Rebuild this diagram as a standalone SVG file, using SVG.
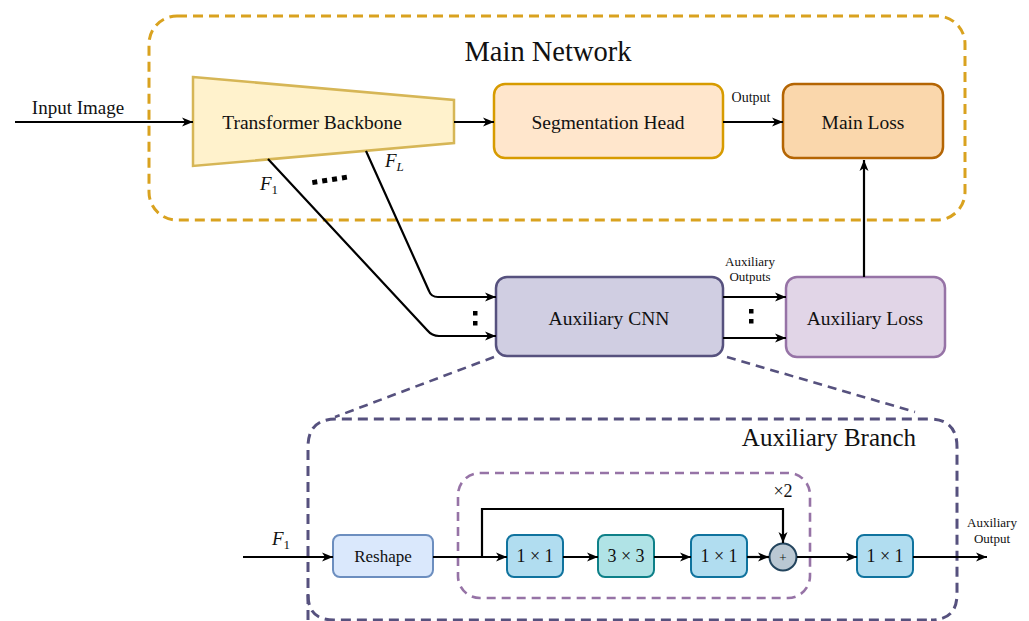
<svg xmlns="http://www.w3.org/2000/svg" width="1029" height="621" viewBox="0 0 1029 621">
<defs>
<marker id="arr" markerUnits="userSpaceOnUse" markerWidth="12" markerHeight="10" refX="11" refY="5" orient="auto">
<path d="M0,0.5 L11,5 L0,9.5 L3,5 z" fill="#000"/>
</marker>
<style>
text{font-family:"Liberation Serif","Times New Roman",serif;fill:#111;}
.lbl{font-size:19.5px;text-anchor:middle;dominant-baseline:central;}
.sm{font-size:14px;text-anchor:middle;}
.mth{font-size:18px;text-anchor:middle;dominant-baseline:central;}
.it{font-style:italic;font-size:19px;}
.sub{font-size:13px;font-style:normal;}
.subi{font-size:13px;font-style:italic;}
.ln{fill:none;stroke:#000;stroke-width:2.2;}
.ar{fill:none;stroke:#000;stroke-width:2.2;marker-end:url(#arr);}
.dot{fill:#000;}
</style>
</defs>
<rect width="1029" height="621" fill="#fff"/>

<g id="main-network">
<rect x="149" y="16" width="816" height="204" rx="28" fill="none" stroke="#d9a21f" stroke-width="3" stroke-dasharray="10 6"/>
<text x="548" y="61" style="font-size:28.5px;text-anchor:middle;">Main Network</text>
</g>

<g id="aux-branch">
<path d="M308,620 L308,447 Q308,419 336,419 L929,419 Q957,419 957,447 L957,594 Q957,620 931,620" fill="none" stroke="#56517e" stroke-width="3" stroke-dasharray="10 6"/>
<path d="M308,595 Q308,620 334,620 L931,620" fill="none" stroke="#56517e" stroke-width="3" stroke-dasharray="10 6"/>
<text x="829" y="446" style="font-size:25px;text-anchor:middle;">Auxiliary Branch</text>
</g>

<g id="repeat-block">
<rect x="458" y="473" width="352" height="125" rx="22" fill="none" stroke="#9673a6" stroke-width="2.6" stroke-dasharray="9 6"/>
<text x="783" y="497" style="font-size:18px;text-anchor:middle;">×2</text>
</g>

<g id="transformer-backbone">
<polygon points="193,77 454,100 454,143 193,166" fill="#fff2cc" stroke="#d6b656" stroke-width="2.5"/>
<text class="lbl" x="312" y="122">Transformer Backbone</text>
</g>

<g id="segmentation-head">
<rect x="494" y="84" width="229" height="74" rx="11" fill="#ffe6cc" stroke="#d79b00" stroke-width="2.5"/>
<text class="lbl" x="608" y="122">Segmentation Head</text>
</g>

<g id="main-loss">
<rect x="783" y="84" width="160" height="74" rx="11" fill="#fad7ac" stroke="#b46504" stroke-width="2.5"/>
<text class="lbl" x="863" y="122">Main Loss</text>
</g>

<g id="auxiliary-cnn">
<rect x="496" y="277" width="227" height="79" rx="11" fill="#d0cee2" stroke="#56517e" stroke-width="2.5"/>
<text class="lbl" x="609" y="318">Auxiliary CNN</text>
</g>

<g id="auxiliary-loss">
<rect x="786" y="277" width="159" height="80" rx="11" fill="#e1d5e7" stroke="#9673a6" stroke-width="2.5"/>
<text class="lbl" x="865" y="318">Auxiliary Loss</text>
</g>

<g id="reshape">
<rect x="333" y="535" width="100" height="42" rx="7" fill="#dae8fc" stroke="#6c8ebf" stroke-width="2"/>
<text x="383" y="556" style="font-size:17px;text-anchor:middle;dominant-baseline:central;">Reshape</text>
</g>

<g id="conv1x1-a">
<rect x="507" y="535" width="56" height="42" rx="7" fill="#b1ddf0" stroke="#10739e" stroke-width="2"/>
<text class="mth" x="535" y="556">1 × 1</text>
</g>

<g id="conv3x3">
<rect x="598" y="535" width="56" height="42" rx="7" fill="#b0e3e6" stroke="#0e8088" stroke-width="2"/>
<text class="mth" x="626" y="556">3 × 3</text>
</g>

<g id="conv1x1-b">
<rect x="691" y="535" width="56" height="42" rx="7" fill="#b1ddf0" stroke="#10739e" stroke-width="2"/>
<text class="mth" x="719" y="556">1 × 1</text>
</g>

<g id="add">
<circle cx="783" cy="557" r="13.5" fill="#bac8d3" stroke="#23445d" stroke-width="2"/>
<text x="783" y="557" style="font-size:13px;text-anchor:middle;dominant-baseline:central;">+</text>
</g>

<g id="conv1x1-c">
<rect x="857" y="535" width="56" height="42" rx="7" fill="#b1ddf0" stroke="#10739e" stroke-width="2"/>
<text class="mth" x="885" y="556">1 × 1</text>
</g>

<g id="connectors">
<path class="ar" d="M15,122 L193,122"/>
<text x="78" y="114" style="font-size:19px;text-anchor:middle;">Input Image</text>
<path class="ar" d="M454,122 L494,122"/>
<path class="ar" d="M723,122 L783,122"/>
<text class="sm" x="751" y="102">Output</text>
<path class="ar" d="M864,277 L864,160"/>

<path class="ar" d="M366,151 L429,291 Q431,297 438,297 L496,297"/>
<path class="ar" d="M268,159 L427,330 Q432,336 439,336 L496,336"/>
<text class="it" x="260" y="190">F<tspan class="sub" dy="4">1</tspan></text>
<text class="it" x="385" y="167">F<tspan class="subi" dy="4">L</tspan></text>
<g transform="rotate(-9 332 179)">
<rect class="dot" x="312" y="177" width="5" height="5"/>
<rect class="dot" x="322" y="177" width="5" height="5"/>
<rect class="dot" x="332" y="177" width="5" height="5"/>
<rect class="dot" x="342" y="177" width="5" height="5"/>
</g>
<rect class="dot" x="473" y="311" width="4.5" height="4.5"/>
<rect class="dot" x="473" y="321" width="4.5" height="4.5"/>

<path class="ar" d="M723,297 L786,297"/>
<path class="ar" d="M723,338 L786,338"/>
<rect class="dot" x="749" y="309" width="4.5" height="4.5"/>
<rect class="dot" x="749" y="319" width="4.5" height="4.5"/>
<text class="sm" x="750" y="266" style="font-size:13px;">Auxiliary</text>
<text class="sm" x="750" y="281" style="font-size:13px;">Outputs</text>

<path d="M494,357 L335,417" fill="none" stroke="#56517e" stroke-width="2.6" stroke-dasharray="9 6"/>
<path d="M727,357 L915,412" fill="none" stroke="#56517e" stroke-width="2.6" stroke-dasharray="9 6"/>

<path class="ar" d="M243,557 L333,557"/>
<text class="it" x="272" y="545">F<tspan class="sub" dy="4">1</tspan></text>
<path class="ar" d="M433,557 L507,557"/>
<path class="ar" d="M482,557 L482,509 L783,509 L783,543"/>
<path class="ar" d="M563,557 L598,557"/>
<path class="ar" d="M654,557 L691,557"/>
<path class="ar" d="M747,557 L769,557"/>
<path class="ar" d="M797,557 L857,557"/>
<path class="ar" d="M913,557 L987,557"/>
<text class="sm" x="992" y="527" style="font-size:13px;">Auxiliary</text>
<text class="sm" x="992" y="543" style="font-size:13px;">Output</text>
</g>
</svg>
